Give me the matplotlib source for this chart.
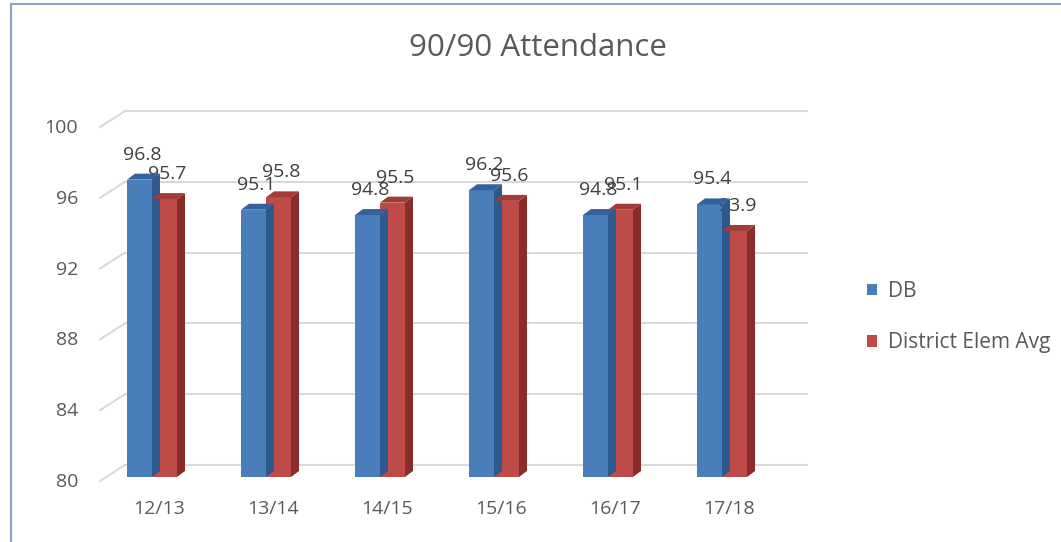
import matplotlib

matplotlib.use("Agg")
import matplotlib.pyplot as plt
import matplotlib.transforms as mtransforms
from matplotlib.lines import Line2D
from matplotlib.patches import Patch, Polygon
import numpy as np

# -----------------------------------------------------------------------------
# Data
# -----------------------------------------------------------------------------
years = ["12/13", "13/14", "14/15", "15/16", "16/17", "17/18"]
db = [96.8, 95.1, 94.8, 96.2, 94.8, 95.4]
district = [95.7, 95.8, 95.5, 95.6, 95.1, 93.9]
y_ticks = [80, 84, 88, 92, 96, 100]

# -----------------------------------------------------------------------------
# Style
# -----------------------------------------------------------------------------
W, H = 1061, 542
TEXT = "#595959"
GRID = "#d9d9d9"
BLUE, BLUE_SIDE, BLUE_TOP = "#4a7ebb", "#2c5a8f", "#33629c"
RED, RED_SIDE, RED_TOP = "#be4b48", "#8a2c2a", "#a13c39"
DEPTH = np.array([8.0, 6.0])  # bar depth in pixels (right, up)
WALL_DX, WALL_DY = 25, 12  # back wall offset in pixels

plt.rcParams["font.family"] = ["Open Sans", "DejaVu Sans"]

fig = plt.figure(figsize=(W / 100, H / 100), dpi=100)
ax = fig.add_axes([100 / W, (H - 477) / H, 708 / W, 354 / H])
ax.set_xlim((100 - 152) / 114, (808 - 152) / 114)
ax.set_ylim(80, 100)
ax.set_axis_off()

x = np.arange(len(years))
bw = 25 / 114

blend_y = mtransforms.blended_transform_factory(ax.transAxes, ax.transData)
blend_x = mtransforms.blended_transform_factory(ax.transData, ax.transAxes)
ident = mtransforms.IdentityTransform()

# back wall gridlines
back = mtransforms.offset_copy(blend_y, fig=fig, x=WALL_DX, y=WALL_DY, units="dots")
ax.hlines(y_ticks, 0, 1 - WALL_DX / 708, transform=back, color=GRID, lw=1.5,
          zorder=0, clip_on=False)

# side wall diagonals + y labels
for v in y_ticks:
    p = blend_y.transform((0, v))
    seg = np.array([p + (0, -4), p + (WALL_DX, WALL_DY)])
    fig.add_artist(Line2D(seg[:, 0], seg[:, 1], transform=ident, color=GRID, lw=1.5))
    ax.text(0, v, str(v), transform=mtransforms.offset_copy(blend_y, fig=fig, x=-22, y=-5, units="dots"),
            ha="right", va="center", fontsize=14, color=TEXT)

# x labels
for i, lab in enumerate(years):
    ax.text(x[i], 0, lab, transform=mtransforms.offset_copy(blend_x, fig=fig, x=7, y=-32, units="dots"),
            ha="center", va="center", fontsize=14, color=TEXT)


def add_faces(rect, side_color, top_color, z):
    x0, y0 = rect.get_x(), rect.get_y()
    w, h = rect.get_width(), rect.get_height()
    tl, tr, br = ax.transData.transform([(x0, y0 + h), (x0 + w, y0 + h), (x0 + w, y0)])
    side = Polygon([br, tr, tr + DEPTH, br + DEPTH], closed=True, transform=ident,
                   facecolor=side_color, edgecolor="none", zorder=z)
    top = Polygon([tl, tr, tr + DEPTH, tl + DEPTH], closed=True, transform=ident,
                  facecolor=top_color, edgecolor="none", zorder=z)
    fig.add_artist(side)
    fig.add_artist(top)


blue_bars = ax.bar(x - bw, np.array(db) - 80, bottom=80, width=bw, align="edge",
                   color=BLUE, zorder=3)
red_bars = ax.bar(x, np.array(district) - 80, bottom=80, width=bw, align="edge",
                  color=RED, zorder=5)

for rect in blue_bars:
    add_faces(rect, BLUE_SIDE, BLUE_TOP, 2)
for rect in red_bars:
    add_faces(rect, RED_SIDE, RED_TOP, 6)

# data labels
for bars, vals in ((blue_bars, db), (red_bars, district)):
    for rect, v in zip(bars, vals):
        ax.annotate(f"{v}", (rect.get_x() + rect.get_width() / 2, v),
                    xytext=(3 * 0.72, 25 * 0.72), textcoords="offset points",
                    ha="center", va="center", fontsize=14, color="#404040", zorder=10)

# title
fig.text(537.5 / W, 1 - 48 / H, "90/90 Attendance", ha="center", va="center",
         fontsize=22.5, color=TEXT)

# legend
handles = [Patch(facecolor=BLUE, edgecolor="none"), Patch(facecolor=RED, edgecolor="none")]
fig.legend(handles, ["DB", "District Elem Avg"], loc="center left",
           bbox_to_anchor=(867 / W, 225 / H), bbox_transform=fig.transFigure,
           frameon=False, fontsize=15, handlelength=0.5, handleheight=0.5,
           handletextpad=0.5, labelspacing=1.45, borderpad=0, borderaxespad=0,
           labelcolor=TEXT)

# chart frame
fig.add_artist(Line2D([11 / W, 11 / W], [0, 1 - 4 / H], transform=fig.transFigure,
                      color="#8aa4c8", lw=1.5))
fig.add_artist(Line2D([11 / W, 1], [1 - 4 / H, 1 - 4 / H], transform=fig.transFigure,
                      color="#8aa4c8", lw=1.5))

fig.savefig("out.png", dpi=100)
